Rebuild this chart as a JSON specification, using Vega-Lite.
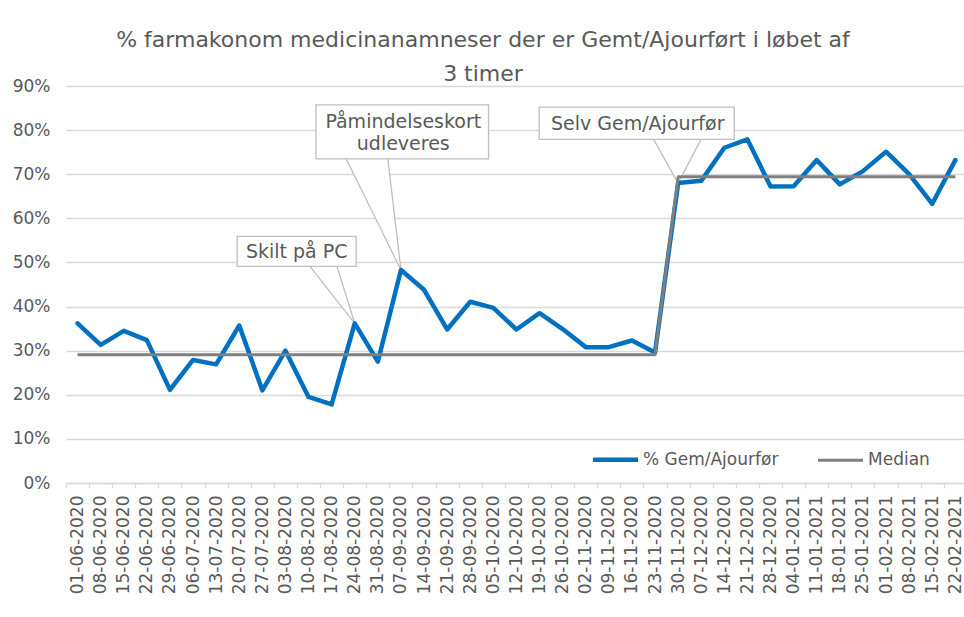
{
  "$schema": "https://vega.github.io/schema/vega-lite/v6.json",
  "width": 898,
  "height": 397,
  "autosize": {"type": "none"},
  "padding": {"left": 66, "top": 86, "right": 0, "bottom": 134},
  "background": "white",
  "title": {
    "text": ["% farmakonom medicinanamneser der er Gemt/Ajourført i løbet af", "3 timer"],
    "font": "DejaVu Sans",
    "fontSize": 22,
    "fontWeight": "normal",
    "color": "#595959",
    "anchor": "middle",
    "dx": -32,
    "lineHeight": 34,
    "offset": -9
  },
  "config": {
    "view": {"stroke": null},
    "axisX": {
      "domainColor": "#D9D9D9",
      "domainWidth": 1.3,
      "tickColor": "#D9D9D9",
      "tickWidth": 1.3,
      "tickSize": 5,
      "labelFont": "DejaVu Sans",
      "labelFontSize": 17,
      "labelColor": "#595959",
      "labelAngle": 270,
      "labelPadding": 7,
      "labelOverlap": false,
      "labelFlush": false,
      "labelBound": false,
      "grid": false
    },
    "axisY": {
      "domain": false,
      "ticks": false,
      "grid": true,
      "gridColor": "#D9D9D9",
      "gridWidth": 1.3,
      "labelFont": "DejaVu Sans",
      "labelFontSize": 17,
      "labelColor": "#595959",
      "labelPadding": 16
    }
  },
  "datasets": {
    "series": [
      {"date": "2020-06-01", "pct": 0.362, "median": 0.291},
      {"date": "2020-06-08", "pct": 0.313, "median": 0.291},
      {"date": "2020-06-15", "pct": 0.345, "median": 0.291},
      {"date": "2020-06-22", "pct": 0.324, "median": 0.291},
      {"date": "2020-06-29", "pct": 0.211, "median": 0.291},
      {"date": "2020-07-06", "pct": 0.279, "median": 0.291},
      {"date": "2020-07-13", "pct": 0.269, "median": 0.291},
      {"date": "2020-07-20", "pct": 0.357, "median": 0.291},
      {"date": "2020-07-27", "pct": 0.210, "median": 0.291},
      {"date": "2020-08-03", "pct": 0.300, "median": 0.291},
      {"date": "2020-08-10", "pct": 0.195, "median": 0.291},
      {"date": "2020-08-17", "pct": 0.178, "median": 0.291},
      {"date": "2020-08-24", "pct": 0.362, "median": 0.291},
      {"date": "2020-08-31", "pct": 0.275, "median": 0.291},
      {"date": "2020-09-07", "pct": 0.483, "median": 0.291},
      {"date": "2020-09-14", "pct": 0.438, "median": 0.291},
      {"date": "2020-09-21", "pct": 0.348, "median": 0.291},
      {"date": "2020-09-28", "pct": 0.411, "median": 0.291},
      {"date": "2020-10-05", "pct": 0.397, "median": 0.291},
      {"date": "2020-10-12", "pct": 0.348, "median": 0.291},
      {"date": "2020-10-19", "pct": 0.385, "median": 0.291},
      {"date": "2020-10-26", "pct": 0.349, "median": 0.291},
      {"date": "2020-11-02", "pct": 0.308, "median": 0.291},
      {"date": "2020-11-09", "pct": 0.308, "median": 0.291},
      {"date": "2020-11-16", "pct": 0.323, "median": 0.291},
      {"date": "2020-11-23", "pct": 0.296, "median": 0.291},
      {"date": "2020-11-30", "pct": 0.680, "median": 0.694},
      {"date": "2020-12-07", "pct": 0.685, "median": 0.694},
      {"date": "2020-12-14", "pct": 0.760, "median": 0.694},
      {"date": "2020-12-21", "pct": 0.779, "median": 0.694},
      {"date": "2020-12-28", "pct": 0.672, "median": 0.694},
      {"date": "2021-01-04", "pct": 0.673, "median": 0.694},
      {"date": "2021-01-11", "pct": 0.732, "median": 0.694},
      {"date": "2021-01-18", "pct": 0.677, "median": 0.694},
      {"date": "2021-01-25", "pct": 0.707, "median": 0.694},
      {"date": "2021-02-01", "pct": 0.751, "median": 0.694},
      {"date": "2021-02-08", "pct": 0.700, "median": 0.694},
      {"date": "2021-02-15", "pct": 0.633, "median": 0.694},
      {"date": "2021-02-22", "pct": 0.732, "median": 0.694}
    ],
    "notes": [
      {"note": "Skilt på PC", "x1": "2020-07-19T09:00:00Z", "x2": "2020-08-24T10:00:00Z", "y1": 0.491, "y2": 0.559, "tx": "2020-08-06T10:00:00Z", "ty": 0.524},
      {"note": "Påmindelseskort\nudleveres", "x1": "2020-08-12T06:00:00Z", "x2": "2020-10-03T13:00:00Z", "y1": 0.735, "y2": 0.857, "tx": "2020-09-07T17:00:00Z", "ty": 0.819},
      {"note": "Selv Gem/Ajourfør", "x1": "2020-10-18T21:00:00Z", "x2": "2020-12-17T00:00:00Z", "y1": 0.779, "y2": 0.852, "tx": "2020-11-17T18:00:00Z", "ty": 0.813}
    ],
    "wedges": [
      {"note": "a", "ord": 0, "x": "2020-08-10T00:00:00Z", "y": 0.495},
      {"note": "a", "ord": 1, "x": "2020-08-24T00:00:00Z", "y": 0.362},
      {"note": "a", "ord": 2, "x": "2020-08-18T11:00:00Z", "y": 0.495},
      {"note": "b", "ord": 0, "x": "2020-08-21T03:00:00Z", "y": 0.739},
      {"note": "b", "ord": 1, "x": "2020-09-07T00:00:00Z", "y": 0.483},
      {"note": "b", "ord": 2, "x": "2020-09-02T23:00:00Z", "y": 0.739},
      {"note": "c", "ord": 0, "x": "2020-11-22T06:00:00Z", "y": 0.783},
      {"note": "c", "ord": 1, "x": "2020-11-30T00:00:00Z", "y": 0.680},
      {"note": "c", "ord": 2, "x": "2020-12-07T05:00:00Z", "y": 0.783}
    ]
  },
  "layer": [
    {
      "data": {"name": "wedges"},
      "mark": {"type": "line", "fill": "white", "stroke": "#BFBFBF", "strokeWidth": 1.3},
      "encoding": {
        "x": {
          "field": "x", "type": "temporal", "title": null,
          "scale": {"type": "utc", "domain": [1590667200000, 1614178800000]},
          "axis": {
            "values": [1590969600000, 1591574400000, 1592179200000, 1592784000000, 1593388800000, 1593993600000, 1594598400000, 1595203200000, 1595808000000, 1596412800000, 1597017600000, 1597622400000, 1598227200000, 1598832000000, 1599436800000, 1600041600000, 1600646400000, 1601251200000, 1601856000000, 1602460800000, 1603065600000, 1603670400000, 1604275200000, 1604880000000, 1605484800000, 1606089600000, 1606694400000, 1607299200000, 1607904000000, 1608508800000, 1609113600000, 1609718400000, 1610323200000, 1610928000000, 1611532800000, 1612137600000, 1612742400000, 1613347200000, 1613952000000],
            "tickCount": 60,
            "format": "%d-%m-%Y",
            "labelOverlap": false,
            "labelFlush": false,
            "labelBound": false,
            "tickOffset": -11.55,
            "labelOffset": 11.55
          }
        },
        "y": {
          "field": "y", "type": "quantitative", "title": null,
          "scale": {"domain": [0, 0.9]},
          "axis": {"values": [0, 0.1, 0.2, 0.3, 0.4, 0.5, 0.6, 0.7, 0.8, 0.9], "format": ".0%"}
        },
        "detail": {"field": "note"},
        "order": {"field": "ord"}
      }
    },
    {
      "data": {"name": "notes"},
      "mark": {"type": "rect", "fill": "white", "stroke": "#BFBFBF", "strokeWidth": 1.3},
      "encoding": {
        "x": {"field": "x1", "type": "temporal", "title": null},
        "x2": {"field": "x2"},
        "y": {"field": "y1", "type": "quantitative", "title": null},
        "y2": {"field": "y2"}
      }
    },
    {
      "data": {"name": "notes"},
      "mark": {"type": "text", "font": "DejaVu Sans", "fontSize": 19, "color": "#595959", "align": "center", "baseline": "middle", "lineBreak": "\n", "lineHeight": 22},
      "encoding": {
        "x": {"field": "tx", "type": "temporal", "title": null},
        "y": {"field": "ty", "type": "quantitative", "title": null},
        "text": {"field": "note"}
      }
    },
    {
      "data": {"name": "series"},
      "mark": {"type": "line", "strokeWidth": 4.5, "strokeJoin": "round", "strokeCap": "round"},
      "encoding": {
        "x": {"field": "date", "type": "temporal", "title": null},
        "y": {"field": "pct", "type": "quantitative", "title": null},
        "color": {
          "datum": "% Gem/Ajourfør",
          "scale": {"domain": ["% Gem/Ajourfør", "Median"], "range": ["#0070C0", "#7F7F7F"]},
          "legend": {
            "orient": "none",
            "legendX": 541,
            "legendY": 365,
            "direction": "horizontal",
            "title": null,
            "symbolType": "stroke",
            "symbolSize": 2025,
            "symbolStrokeWidth": 4,
            "labelFont": "DejaVu Sans",
            "labelFontSize": 17,
            "labelColor": "#595959",
            "columnPadding": 33,
            "labelOffset": 19,
            "padding": 0,
            "encode": {"symbols": {"update": {"strokeWidth": {"signal": "datum.value === 'Median' ? 3 : 4.5"}}}}
          }
        }
      }
    },
    {
      "data": {"name": "series"},
      "mark": {"type": "line", "strokeWidth": 3, "strokeJoin": "round"},
      "encoding": {
        "x": {"field": "date", "type": "temporal", "title": null},
        "y": {"field": "median", "type": "quantitative", "title": null},
        "color": {"datum": "Median"}
      }
    }
  ]
}
